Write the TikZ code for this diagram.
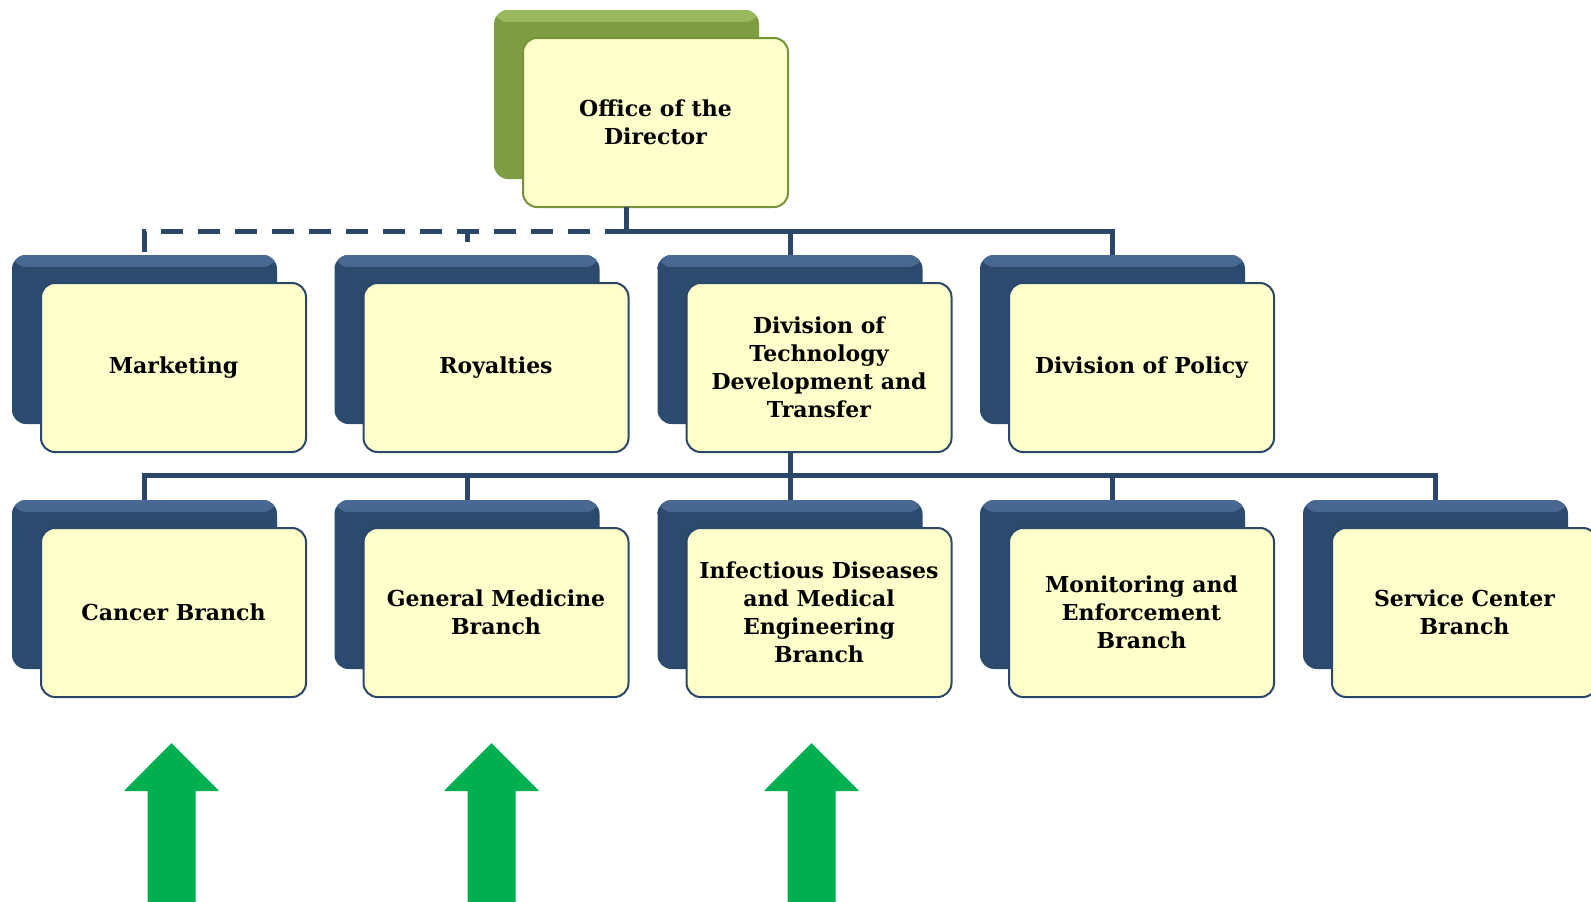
\documentclass[tikz,border=0pt]{standalone}
\usepackage{fontspec}
\setmainfont{DejaVu Serif}
\definecolor{navy}{HTML}{2C4A6E}
\definecolor{navyhi}{HTML}{4A6992}
\definecolor{olive}{HTML}{7E9D42}
\definecolor{olivehi}{HTML}{9BB95E}
\definecolor{oliveline}{HTML}{76933C}
\definecolor{paper}{HTML}{FFFFCC}
\definecolor{wire}{HTML}{2A4769}
\definecolor{upgreen}{HTML}{00B050}

\tikzset{
  card/.style={rectangle, rounded corners=14pt, minimum width=265pt,
    minimum height=169pt, inner sep=0pt, outer sep=0pt},
  backcard/.style={card, fill=navy,
    path picture={\shade[top color=navyhi, bottom color=navy]
      (path picture bounding box.north west) rectangle
      ([yshift=-12pt]path picture bounding box.north east);}},
  greenback/.style={card, fill=olive,
    path picture={\shade[top color=olivehi, bottom color=olive]
      (path picture bounding box.north west) rectangle
      ([yshift=-12pt]path picture bounding box.north east);}},
  frontcard/.style={card, fill=paper, draw=wire, line width=2pt,
    align=center, text=black, font=\bfseries\fontsize{22}{28}\selectfont},
  topcard/.style={frontcard, draw=oliveline},
  wire/.style={draw=wire, line width=5pt},
  dashwire/.style={wire, dash pattern=on 22pt off 15pt},
  uparrow/.style={fill=upgreen},
}

\begin{document}
\begin{tikzpicture}[x=1pt, y=-1pt]
\useasboundingbox (0,0) rectangle (1591,902);

% director
\node[greenback] (topB) at (626.5,94.5) {};
\node[topcard] (top) at (655.5,122.5) {Office of the\\Director};

% first level
\node[backcard] (mkB) at (144.5,339.5) {};
\node[frontcard] (mk) at (173.5,367.5) {Marketing};
\node[backcard] (roB) at (467,339.5) {};
\node[frontcard] (ro) at (496,367.5) {Royalties};
\node[backcard] (dtB) at (790,339.5) {};
\node[frontcard] (dt) at (819,367.5) {Division of\\Technology\\Development and\\Transfer};
\node[backcard] (poB) at (1112.5,339.5) {};
\node[frontcard] (po) at (1141.5,367.5) {Division of Policy};

% branches
\node[backcard] (caB) at (144.5,584.5) {};
\node[frontcard] (ca) at (173.5,612.5) {Cancer Branch};
\node[backcard] (gmB) at (467,584.5) {};
\node[frontcard] (gm) at (496,612.5) {General Medicine\\Branch};
\node[backcard] (idB) at (790,584.5) {};
\node[frontcard] (id) at (819,612.5) {Infectious Diseases\\and Medical\\Engineering\\Branch};
\node[backcard] (meB) at (1112.5,584.5) {};
\node[frontcard] (me) at (1141.5,612.5) {Monitoring and\\Enforcement\\Branch};
\node[backcard] (scB) at (1435.5,584.5) {};
\node[frontcard] (sc) at (1464.5,612.5) {Service Center\\Branch};

% connectors
\coordinate (bus1) at (626.5,231);
\coordinate (bus2) at (790,475);
\draw[wire] (topB.center |- top.south) -- (bus1);
\draw[dashwire] (bus1) -| (mkB.north);
\draw[dashwire] (bus1) -| (roB.north);
\draw[wire] (bus1) -| (dtB.north);
\draw[wire] (bus1) -| (poB.north);
\draw[wire] (dtB.center |- dt.south) -- (bus2);
\foreach \b in {caB, gmB, idB, meB, scB}
  \draw[wire] (bus2) -| (\b.north);

% green arrows
\foreach \x in {171.5, 491.5, 811.5}
  \fill[uparrow] (\x,743) -- (\x+47.5,791) -- (\x+24,791) -- (\x+24,902)
    -- (\x-24,902) -- (\x-24,791) -- (\x-47.5,791) -- cycle;
\end{tikzpicture}
\end{document}
